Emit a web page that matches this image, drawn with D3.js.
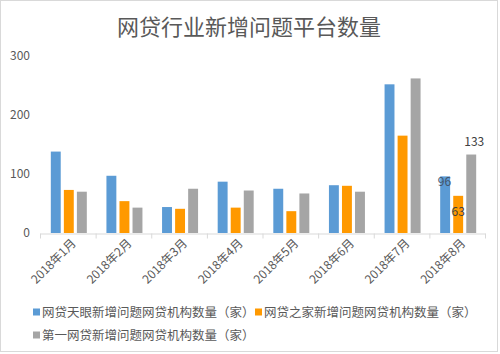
<!DOCTYPE html>
<html>
<head>
<meta charset="utf-8">
<script src="https://cdn.jsdelivr.net/npm/d3@7"></script>
<style>
  body { margin: 0; background: #fff; }
  text { font-family: "Noto Sans CJK SC", "Noto Sans", sans-serif; }
</style>
</head>
<body>
<div id="vis"></div>
<script>
var months = ["2018年1月", "2018年2月", "2018年3月", "2018年4月", "2018年5月", "2018年6月", "2018年7月", "2018年8月"];
var seriesNames = ["网贷天眼新增问题网贷机构数量（家）", "网贷之家新增问题网贷机构数量（家）", "第一网贷新增问题网贷机构数量（家）"];
var tianyan = [138, 97, 44, 87, 75, 81, 252, 96];
var zhijia = [73, 54, 41, 43, 37, 80, 165, 63];
var diyi = [70, 43, 75, 72, 67, 70, 262, 133];
var yTicks = [0, 100, 200, 300];
var colors = ["#5b9bd5", "#ff9900", "#a5a5a5"];

var width = 500, height = 354;
var svg = d3.select("#vis").append("svg")
  .attr("width", width)
  .attr("height", height);

// outer frame
svg.append("rect")
  .attr("x", 0.5).attr("y", 0.5)
  .attr("width", width - 3).attr("height", height - 3)
  .attr("fill", "#fff").attr("stroke", "#d9d9d9");

svg.append("text")
  .attr("x", 249).attr("y", 35)
  .attr("text-anchor", "middle")
  .attr("font-size", 22)
  .attr("fill", "#595959")
  .text("网贷行业新增问题平台数量");

var x0 = d3.scaleBand().domain(months).range([40, 485]).padding(0);
var groupW = 36;
var x1 = d3.scaleBand().domain([0, 1, 2]).range([0, groupW]).paddingInner(0.24);
var y = d3.scaleLinear().domain([0, 300]).range([233, 56]);

// y axis labels (no line)
var yAxis = svg.append("g")
  .attr("transform", "translate(30,0)")
  .call(d3.axisLeft(y).tickValues(yTicks).tickSize(0).tickPadding(0));
yAxis.select(".domain").remove();
yAxis.selectAll("text").attr("font-size", 12).attr("fill", "#595959");

// x axis
var xAxis = svg.append("g")
  .attr("transform", "translate(0,233.5)")
  .call(d3.axisBottom(x0).tickSize(0).tickFormat(""));
xAxis.select(".domain").attr("stroke", "#d9d9d9");
var bounds = months.map(function(m) { return x0(m); }).concat([x0.range()[1]]);
svg.selectAll(".xtick").data(bounds).enter().append("line")
  .attr("x1", function(d) { return d + 0.5; })
  .attr("x2", function(d) { return d + 0.5; })
  .attr("y1", 233.5).attr("y2", 238.5)
  .attr("stroke", "#d9d9d9");

svg.selectAll(".xlab").data(months).enter().append("text")
  .attr("text-anchor", "end")
  .attr("font-size", 12)
  .attr("fill", "#595959")
  .attr("transform", function(d) {
    var cx = x0(d) + x0.bandwidth() / 2 + 9;
    return "translate(" + cx + ",244) rotate(-45)";
  })
  .text(function(d) { return d; });

var table = months.map(function(m, i) {
  return { month: m, values: [tianyan[i], zhijia[i], diyi[i]] };
});

var groups = svg.selectAll(".grp").data(table).enter().append("g")
  .attr("transform", function(d) {
    return "translate(" + (x0(d.month) + (x0.bandwidth() - groupW) / 2 + 1) + ",0)";
  });

groups.selectAll("rect").data(function(d) {
  return d.values.map(function(v, k) { return { k: k, v: v }; });
}).enter().append("rect")
  .attr("x", function(d) { return x1(d.k); })
  .attr("width", x1.bandwidth())
  .attr("y", function(d) { return y(d.v); })
  .attr("height", function(d) { return y(0) - y(d.v); })
  .attr("fill", function(d) { return colors[d.k]; });

// data labels on last month
var last = months[months.length - 1];
var gx = x0(last) + (x0.bandwidth() - groupW) / 2 + 1;
var labels = [
  { k: 0, v: tianyan[7], dx: x1(0) + x1.bandwidth() + 1, dy: 10, anchor: "end", fill: "#44546a" },
  { k: 1, v: zhijia[7], dx: x1(1) + x1.bandwidth() / 2, dy: 20, anchor: "middle", fill: "#404040" },
  { k: 2, v: diyi[7], dx: x1(2) + x1.bandwidth() / 2 + 3, dy: -9, anchor: "middle", fill: "#404040" }
];
svg.selectAll(".dlab").data(labels).enter().append("text")
  .attr("x", function(d) { return gx + d.dx; })
  .attr("y", function(d) { return y(d.v) + d.dy; })
  .attr("text-anchor", function(d) { return d.anchor; })
  .attr("font-size", 12)
  .attr("fill", function(d) { return d.fill; })
  .text(function(d) { return d.v; });

// legend
var legendPos = [[33, 312], [255, 312], [33, 335]];
var legend = svg.selectAll(".leg").data(seriesNames).enter().append("g")
  .attr("transform", function(d, i) { return "translate(" + legendPos[i][0] + "," + legendPos[i][1] + ")"; });
legend.append("rect")
  .attr("x", 0).attr("y", -3.5)
  .attr("width", 7).attr("height", 7)
  .attr("fill", function(d, i) { return colors[i]; });
legend.append("text")
  .attr("x", 9).attr("y", 4.5)
  .attr("font-size", 12.5)
  .attr("fill", "#595959")
  .text(function(d) { return d; });
</script>
</body>
</html>
